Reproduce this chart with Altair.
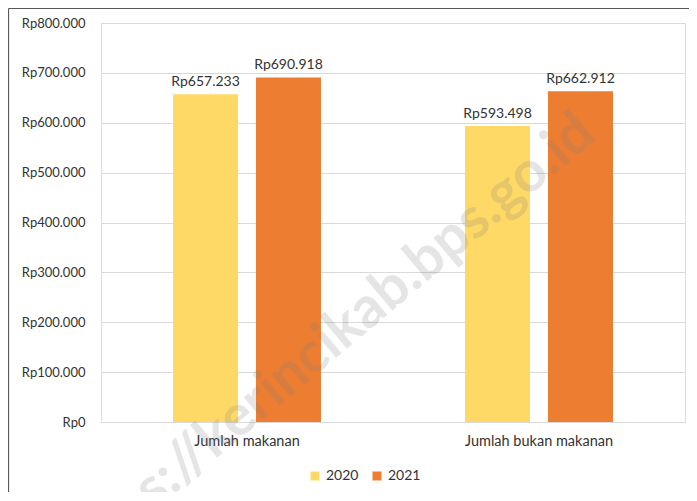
import altair as alt
import pandas as pd

categories = ["Jumlah makanan", "Jumlah bukan makanan"]
years = ["2020", "2021"]
values_2020 = [657233, 593498]
values_2021 = [690918, 662912]
y_ticks = [0, 100000, 200000, 300000, 400000, 500000, 600000, 700000, 800000]
colors = ["#FFD966", "#ED7D31"]
watermark = "https://kerincikab.bps.go.id"

rows = []
for i, c in enumerate(categories):
    for y, vals in zip(years, [values_2020, values_2021]):
        v = vals[i]
        rows.append({"kategori": c, "tahun": y, "nilai": v,
                     "label": "Rp" + f"{v:,}".replace(",", ".")})
df = pd.DataFrame(rows)

FONT = "Lato"
TXT = "#333333"

x_enc = alt.X("kategori:N", sort=categories, title=None,
              scale=alt.Scale(paddingInner=0, paddingOuter=0),
              axis=alt.Axis(labelAngle=0, labelFontSize=14.5, labelColor=TXT,
                            labelFont=FONT, ticks=False, domain=False,
                            labelPadding=12, grid=False))
xo_enc = alt.XOffset("tahun:N", sort=years,
                     scale=alt.Scale(paddingInner=0.217, paddingOuter=0.868))
y_enc = alt.Y("nilai:Q", title=None,
              scale=alt.Scale(domain=[0, 800000], nice=False),
              axis=alt.Axis(values=y_ticks, labelFontSize=13, labelColor=TXT,
                            labelFont=FONT, ticks=False, domain=False,
                            labelPadding=16, gridColor="#D9D9D9",
                            labelExpr="'Rp' + replace(format(datum.value, ','), regexp(',', 'g'), '.')"))

base = alt.Chart(df)

bars = base.mark_bar().encode(
    x=x_enc, xOffset=xo_enc, y=y_enc,
    color=alt.Color("tahun:N", sort=years,
                    scale=alt.Scale(domain=years, range=colors),
                    legend=alt.Legend(title=None, orient="none", direction="horizontal",
                                      legendX=207, legendY=446, symbolType="square",
                                      symbolSize=81, symbolStrokeWidth=0,
                                      labelFontSize=14, labelFont=FONT, labelColor=TXT,
                                      labelOffset=4, columnPadding=11)),
)

labels = base.mark_text(baseline="bottom", dy=-5, fontSize=14, font=FONT, color=TXT).encode(
    x=x_enc, xOffset=xo_enc, y=y_enc, text="label:N",
)

wm_df = pd.DataFrame({"t": [watermark]})
wm = alt.Chart(wm_df).mark_text(angle=320, fontSize=57, fontWeight="bold", font=FONT,
                                color="#808080", opacity=0.2).encode(
    x=alt.value(224), y=alt.value(322), text="t:N")

border_df = pd.DataFrame({"d": [0]})
left_border = alt.Chart(border_df).mark_rule(color="#595959", strokeWidth=1.2).encode(
    x=alt.value(-92.5), y=alt.value(-14.5), y2=alt.value(470))
top_border = alt.Chart(border_df).mark_rule(color="#595959", strokeWidth=1.2).encode(
    x=alt.value(-92.5), x2=alt.value(600), y=alt.value(-14.5))

chart = alt.layer(bars, labels, wm, left_border, top_border).properties(
    width=584, height=399,
    autosize=alt.AutoSizeParams(type="none"),
    padding={"left": 93, "top": 15, "right": 4, "bottom": 70},
).configure_view(stroke=None).configure(font=FONT)

chart.save("out.html", embed_options={"renderer": "svg", "actions": False})
